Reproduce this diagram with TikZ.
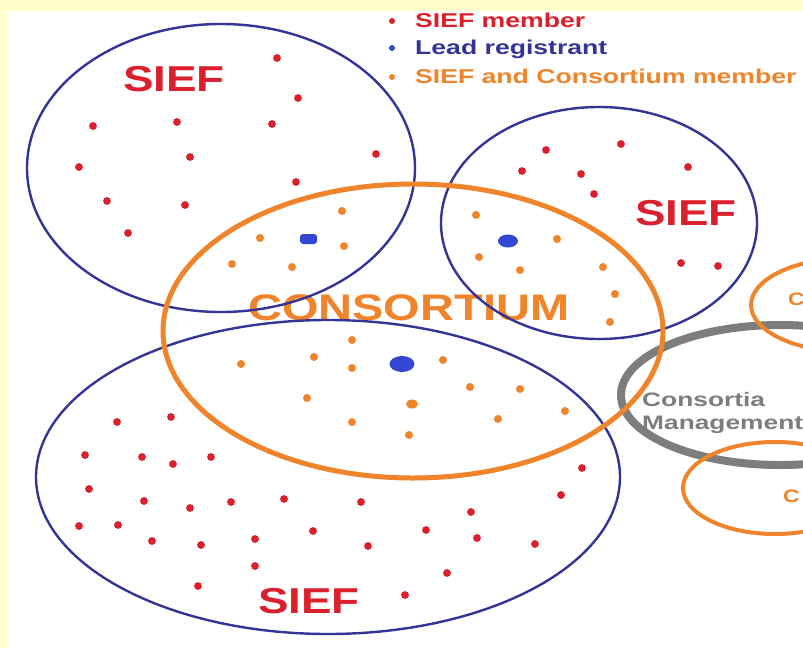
\documentclass[tikz,border=0pt]{standalone}
\usepackage{fontspec}
\usepackage{graphicx}
\setmainfont{Liberation Sans}
\definecolor{bgyellow}{RGB}{255,255,206}
\definecolor{siefred}{RGB}{218,32,44}
\definecolor{navy}{RGB}{52,52,150}
\definecolor{leadblue}{RGB}{50,72,210}
\definecolor{consorange}{RGB}{240,132,42}
\definecolor{mgray}{RGB}{125,125,125}
\tikzset{
  lbl/.style={inner sep=0pt, anchor=base west, font=\bfseries},
  siefring/.style={draw=navy, line width=2.4pt},
  consring/.style={draw=consorange, line width=5pt},
  smallring/.style={draw=consorange, line width=4pt},
  mgmtring/.style={draw=mgray, line width=8pt},
}
\newcommand{\wide}[1]{\scalebox{1.27}[1]{#1}}
\begin{document}
\begin{tikzpicture}[x=1pt,y=-1pt]
\useasboundingbox (0,0) rectangle (803,648);
\fill[bgyellow] (0,0) rectangle (803,648);
\fill[white] (7,11) rectangle (803,648);

% CONSORTIUM label (under the lines)
\node[lbl, text=consorange] (consLabel) at (248,320) {\fontsize{37}{40}\selectfont\wide{CONSORTIUM}};

% SIEF rings
\draw[siefring] (221,168) ellipse [x radius=194pt, y radius=144pt];
\draw[siefring] (599,223) ellipse [x radius=158pt, y radius=116pt];
\draw[siefring] (328,477) ellipse [x radius=292pt, y radius=157pt];

% Consortia management ring
\draw[mgmtring] (780,395) ellipse [x radius=159pt, y radius=70pt];

% Consortium rings
\draw[consring] (413,331) ellipse [x radius=250pt, y radius=147pt];
\draw[smallring] (850,305) ellipse [x radius=99pt, y radius=47pt];
\draw[smallring] (775,488) ellipse [x radius=92pt, y radius=46pt];

% SIEF members (red)
\foreach \p in {(277,58),(298,98),(93,126),(177,122),(272,124),(376,154),(190,157),(79,167),(296,182),(107,201),(185,205),(128,233),
  (546,150),(621,144),(522,171),(581,174),(688,167),(594,194),(681,263),(718,266),
  (117,422),(171,417),(85,455),(142,457),(173,464),(211,457),(89,489),(144,501),(190,508),(231,502),(284,499),(361,502),
  (79,526),(118,525),(152,541),(201,545),(255,539),(313,531),(368,546),(255,566),(198,586),(405,595),
  (582,468),(561,495),(471,512),(426,530),(477,538),(535,544),(447,573)}
  \fill[siefred] \p circle[radius=3.9pt];

% SIEF and Consortium members (orange)
\foreach \p in {(342,211),(260,238),(344,246),(232,264),(292,267),
  (476,215),(557,239),(479,257),(520,270),(603,267),(615,294),(610,322),
  (352,340),(314,357),(241,364),(352,368),(443,360),(307,398),(470,387),(520,389),(565,411),(498,419),(352,422),(409,435)}
  \fill[consorange] \p circle[radius=4pt];
\fill[consorange] (412,404) ellipse [x radius=6pt, y radius=4.5pt];

% Lead registrants (blue)
\fill[leadblue, rounded corners=3pt] (300,234) rectangle (317,244);
\fill[leadblue] (508,241) ellipse [x radius=10pt, y radius=6.5pt];
\fill[leadblue] (402,364) ellipse [x radius=12.5pt, y radius=8pt];

% Labels
\node[lbl, text=siefred] (siefA) at (123,91) {\fontsize{36}{40}\selectfont\wide{SIEF}};
\node[lbl, text=siefred] (siefB) at (635,225) {\fontsize{36}{40}\selectfont\wide{SIEF}};
\node[lbl, text=siefred] (siefC) at (258,613) {\fontsize{36}{40}\selectfont\wide{SIEF}};

\node[lbl, text=mgray] (mgmtA) at (642,406) {\fontsize{19.5}{22}\selectfont\scalebox{1.35}[1]{Consortia}};
\node[lbl, text=mgray] (mgmtB) at (642,429) {\fontsize{19.5}{22}\selectfont\scalebox{1.35}[1]{Management}};

\node[lbl, text=consorange] (cA) at (788,305) {\fontsize{18}{20}\selectfont\wide{C}};
\node[lbl, text=consorange] (cB) at (783,502) {\fontsize{18}{20}\selectfont\wide{C}};

% Legend
\fill[siefred] (392,21) circle[radius=3pt];
\fill[leadblue] (392,48) circle[radius=3pt];
\fill[consorange] (392,77) circle[radius=3pt];
\node[lbl, text=siefred] (legA) at (415,27) {\fontsize{20}{22}\selectfont\scalebox{1.33}[1]{SIEF member}};
\node[lbl, text=navy] (legB) at (415,54) {\fontsize{20}{22}\selectfont\scalebox{1.33}[1]{Lead registrant}};
\node[lbl, text=consorange] (legC) at (415,83) {\fontsize{20}{22}\selectfont\scalebox{1.33}[1]{SIEF and Consortium member}};
\end{tikzpicture}
\end{document}
